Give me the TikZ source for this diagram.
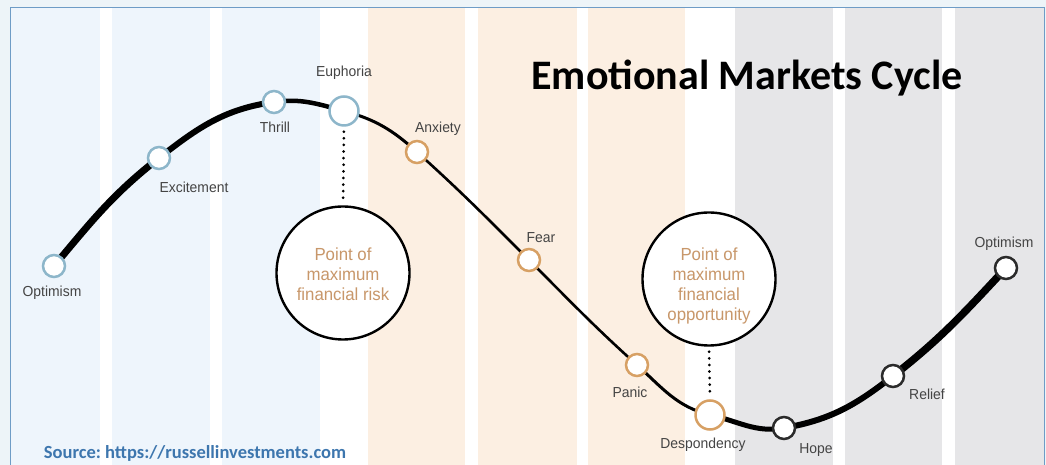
\documentclass[tikz,border=0pt]{standalone}
\usepackage{fontspec}
\setmainfont{Liberation Sans}
\newfontfamily\lblfont[FakeStretch=0.96]{Liberation Sans}
\newfontfamily\calfont{Carlito}
\frenchspacing

\definecolor{framebg}{HTML}{EDF4F8}
\definecolor{framerule}{HTML}{6E9CC6}
\definecolor{stripeblue}{HTML}{EEF5FC}
\definecolor{stripepeach}{HTML}{FCEFE2}
\definecolor{stripegray}{HTML}{E6E6E8}
\definecolor{nodeblue}{HTML}{8DB6CA}
\definecolor{nodeorange}{HTML}{D7A064}
\definecolor{nodedark}{HTML}{2B2B2B}
\definecolor{labelgray}{HTML}{444444}
\definecolor{bubbletext}{HTML}{C8976A}
\definecolor{sourceblue}{HTML}{3D76AE}

\pgfdeclarelayer{back}
\pgfdeclarelayer{mid}
\pgfsetlayers{back,mid,main}

\begin{document}
\begin{tikzpicture}[x=1pt,y=1pt,
  stage/.style={circle, fill=white, line width=2.5pt, minimum size=22pt, inner sep=0pt},
  bigstage/.style={stage, minimum size=29pt},
  calm/.style={draw=nodeblue},
  warm/.style={draw=nodeorange},
  dark/.style={draw=nodedark},
  lbl/.style={font=\lblfont\fontsize{14.5}{16}\selectfont, text=labelgray, inner sep=0pt, anchor=base},
  bubble/.style={circle, draw=black, fill=white, line width=2.4pt, minimum size=133pt, inner sep=0pt},
  bubbletxt/.style={align=center, inner sep=0pt, text=bubbletext, font=\lblfont\fontsize{17.5}{20}\selectfont},
  dots/.style={line width=3pt, line cap=round, dash pattern=on 0pt off 6.6pt, shorten <=5pt, shorten >=4pt},
  wave/.style={line cap=round}
]
\useasboundingbox (0,0) rectangle (1046,465);

% frame and vertical bands
\begin{pgfonlayer}{back}
  \fill[framebg] (0,0) rectangle (1046,465);
  \fill[white] (10,0) rectangle (1044,457);
  \foreach \a/\b in {10/100, 112/210, 222/320}
    \fill[stripeblue] (\a,0) rectangle (\b,457);
  \foreach \a/\b in {368/465, 478/577, 588/685}
    \fill[stripepeach] (\a,0) rectangle (\b,457);
  \foreach \a/\b in {735/833, 845/942, 955/1044}
    \fill[stripegray] (\a,0) rectangle (\b,457);
  \draw[framerule, line width=1pt] (10,0) -- (10,457) -- (1044,457) -- (1044,0);
\end{pgfonlayer}

% stages of the cycle
\node[stage,calm] (o1) at (54,199) {};
\node[stage,calm] (ex) at (159,307) {};
\node[stage,calm] (th) at (274,363) {};
\node[bigstage,calm] (eu) at (344,354) {};
\node[stage,warm] (an) at (417,313) {};
\node[stage,warm] (fe) at (529,205) {};
\node[stage,warm] (pa) at (637,100) {};
\node[bigstage,warm] (de) at (710,50) {};
\node[stage,dark] (ho) at (784,37) {};
\node[stage,dark] (re) at (893,89) {};
\node[stage,dark] (o2) at (1006,197) {};

% the market wave
\begin{pgfonlayer}{mid}
  \draw[wave, line width=7pt] (o1.center) to[out=50,in=218] (ex.center);
  \draw[wave, line width=6pt] (ex.center) to[out=38,in=188] (th.center);
  \draw[wave, line width=4.5pt] (th.center) to[out=8,in=165] (eu.center);
  \draw[wave, line width=3pt] (eu.center) to[out=-15,in=138] (an.center);
  \draw[wave, line width=2.6pt] (an.center) to[out=-42,in=135] (fe.center);
  \draw[wave, line width=2.6pt] (fe.center) to[out=-45,in=138] (pa.center);
  \draw[wave, line width=3pt] (pa.center) to[out=-42,in=166] (de.center);
  \draw[wave, line width=5pt] (de.center) to[out=-12,in=190] (ho.center);
  \draw[wave, line width=6pt] (ho.center) to[out=10,in=218] (re.center);
  \draw[wave, line width=7.5pt] (re.center) to[out=38,in=227] (o2.center);
\end{pgfonlayer}

% stage labels
\node[lbl] (l-o1) at (52,168) {Optimism};
\node[lbl] (l-ex) at (194,272) {Excitement};
\node[lbl] (l-th) at (275,332) {Thrill};
\node[lbl] (l-eu) at (344,388) {Euphoria};
\node[lbl] (l-an) at (438,332.5) {Anxiety};
\node[lbl] (l-fe) at (541,222) {Fear};
\node[lbl] (l-pa) at (630,67) {Panic};
\node[lbl] (l-de) at (703,16.5) {Despondency};
\node[lbl] (l-ho) at (816,11.5) {Hope};
\node[lbl] (l-re) at (927,65) {Relief};
\node[lbl] (l-o2) at (1004,217.5) {Optimism};

% points of maximum risk and opportunity
\node[bubble] (risk) at (343,192) {};
\node[bubbletxt] (risk-t) at (343,191) {Point of\\maximum\\financial risk};
\node[bubble] (opp) at (709,186) {};
\node[bubbletxt] (opp-t) at (709,179) {Point of\\maximum\\financial\\opportunity};
\draw[dots] (eu.south) -- (risk.north);
\draw[dots] (opp.south) -- (de.north);

% title and source
\node[anchor=base, inner sep=0pt, font=\calfont\bfseries\fontsize{42}{48}\selectfont] (title) at (747,375) {Emotional Markets Cycle};
\node[anchor=base, inner sep=0pt, text=sourceblue, font=\calfont\bfseries\fontsize{18.5}{22}\selectfont] (source) at (195,6) {Source: https://russellinvestments.com};
\end{tikzpicture}
\end{document}
